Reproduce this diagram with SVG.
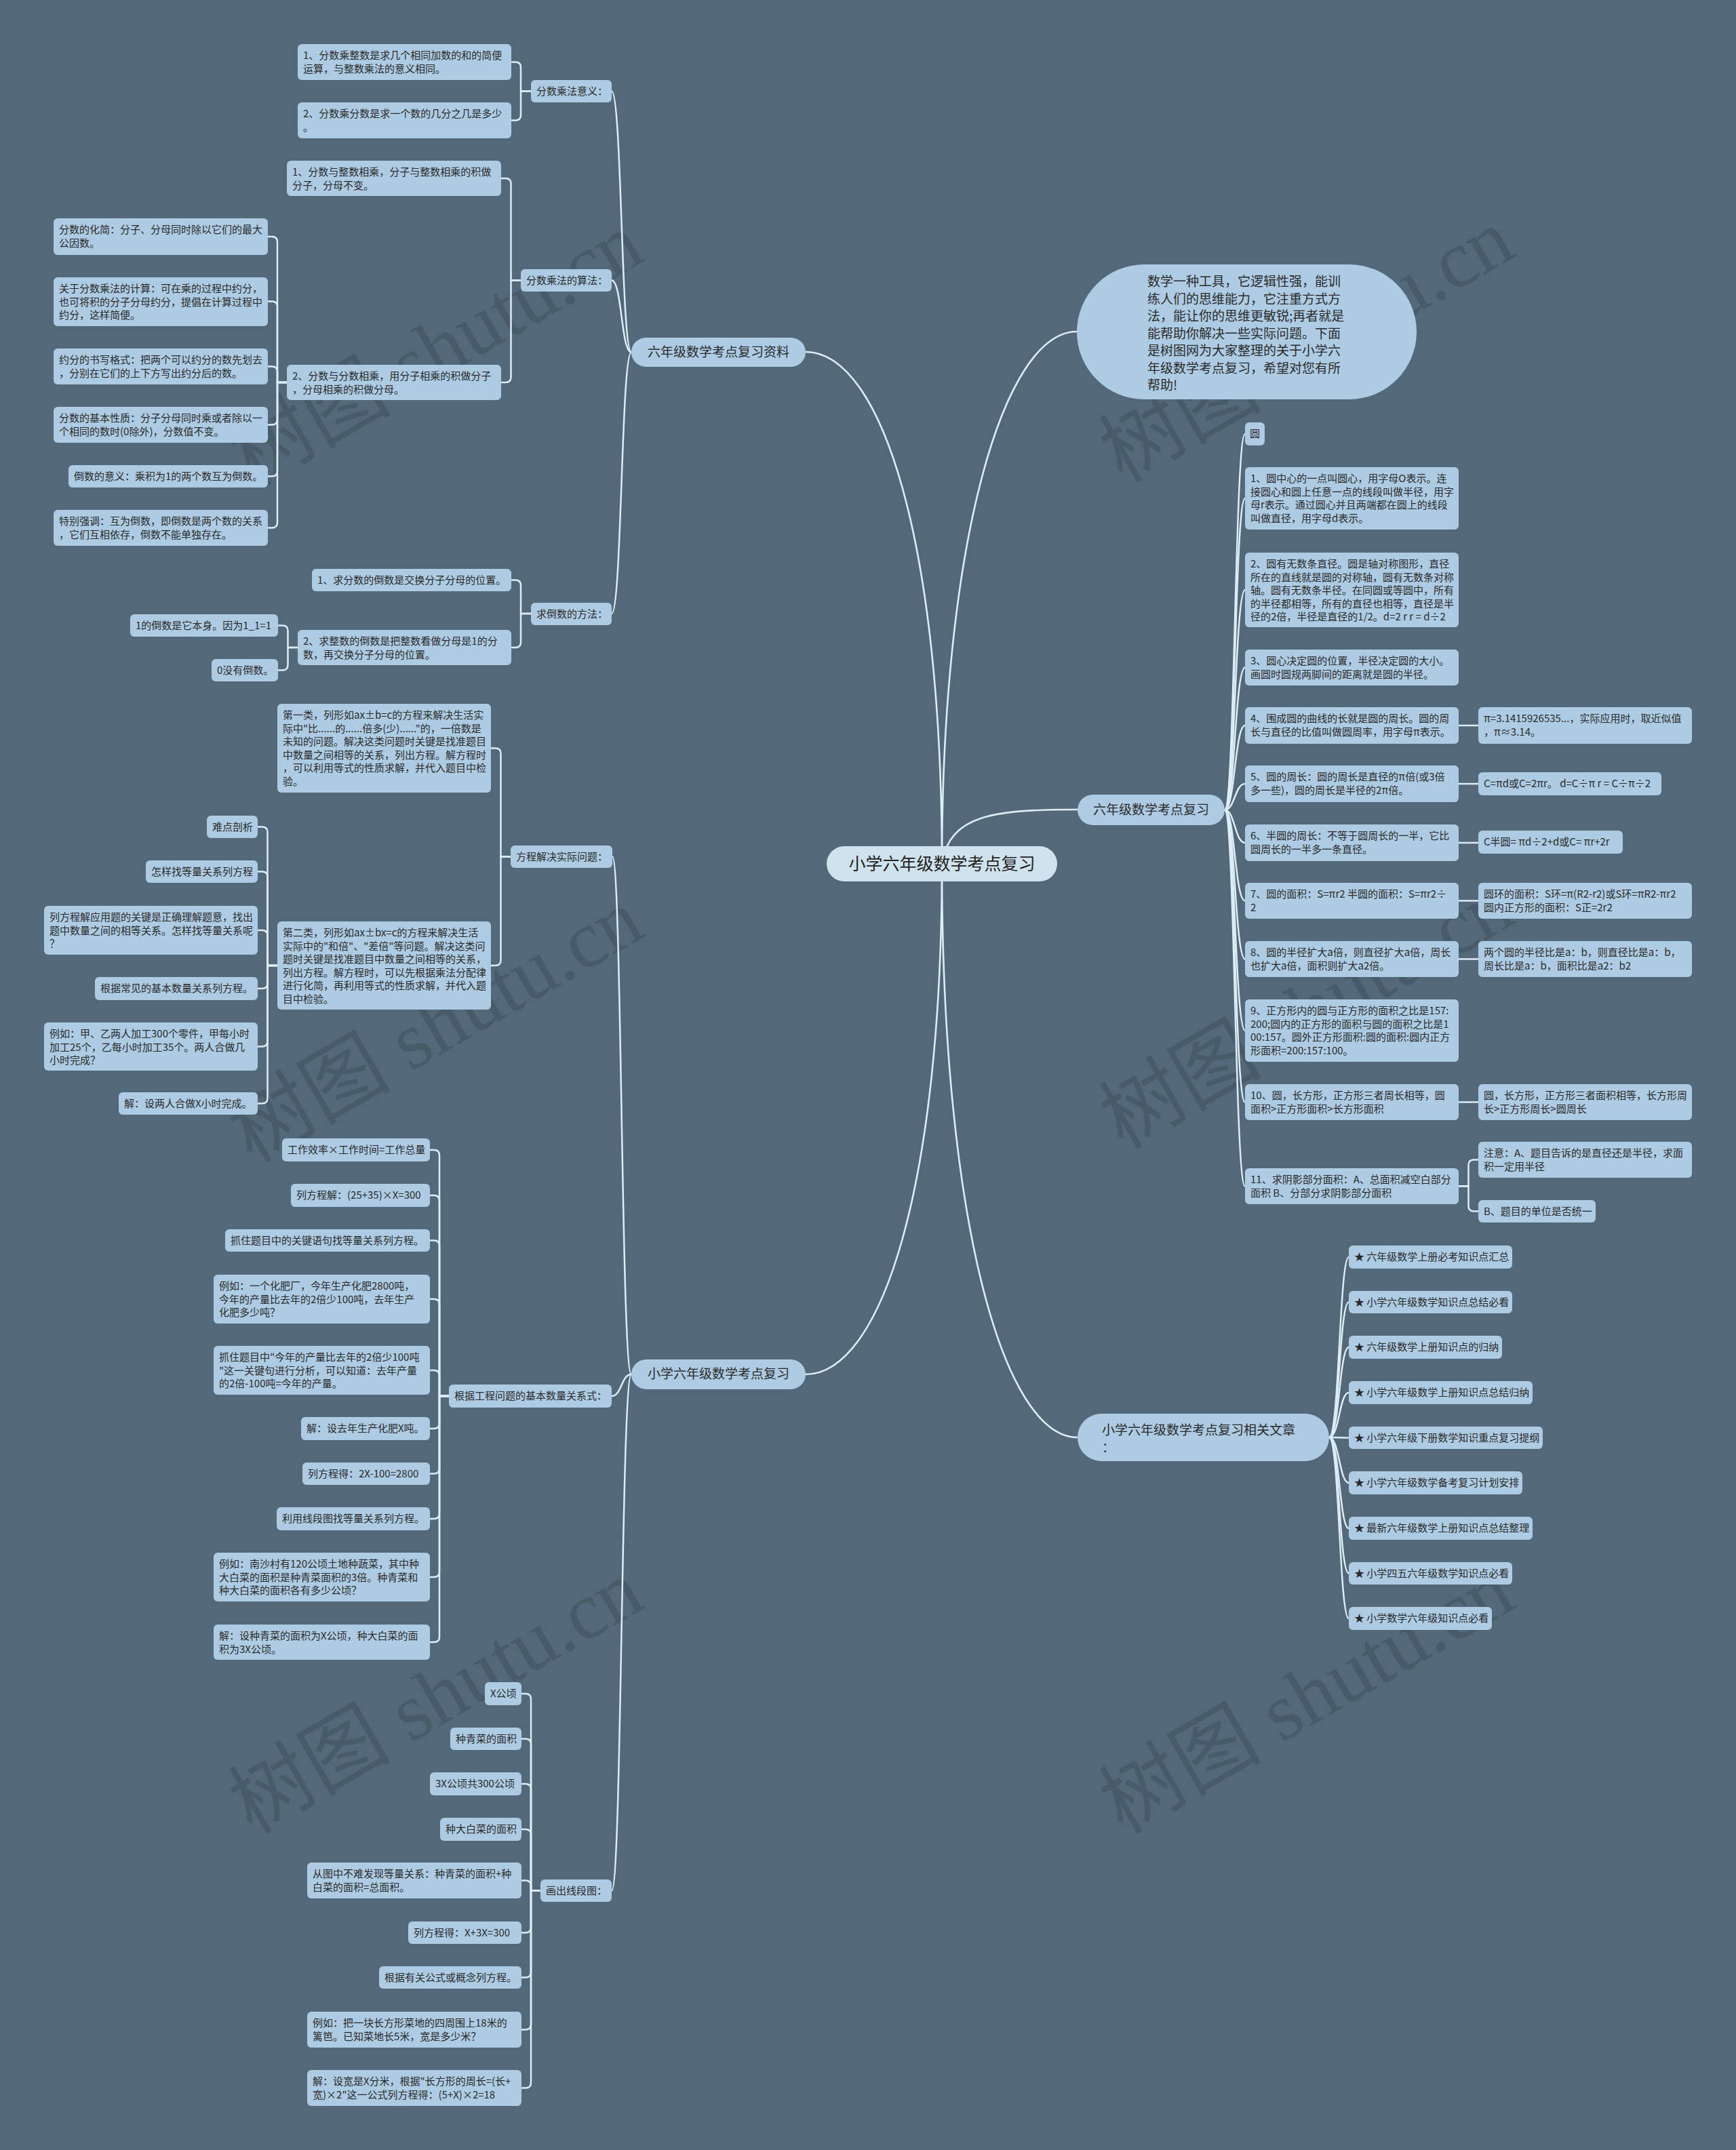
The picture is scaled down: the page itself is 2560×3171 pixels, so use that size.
<svg xmlns="http://www.w3.org/2000/svg" width="2560" height="3171" viewBox="0 0 2560 3171">
<style>
.bg{fill:#536878}
.node rect{fill:#adcbe2}
.t{font-family:"Noto Sans CJK SC","Noto Sans",sans-serif;font-size:15px;fill:#2a2a2a}
.t19{font-family:"Noto Sans CJK SC","Noto Sans",sans-serif;font-size:19px;fill:#2a2a2a}
.t25{font-family:"Noto Sans CJK SC","Noto Sans",sans-serif;font-size:25px;fill:#222}
.conn path{fill:none;stroke:#dcedf6;stroke-width:2.5}
.conn .main{stroke-width:2.6}
.wm{font-family:"Liberation Serif","Noto Sans CJK SC",serif;font-size:120px;fill:#2c3a45;opacity:0.28}
</style>
<rect class="bg" x="0" y="0" width="2560" height="3171"/>

<g id="watermarks">
<text class="wm" x="643" y="556" text-anchor="middle" transform="rotate(-30 643 516)">树图 shutu.cn</text>
<text class="wm" x="1927" y="550" text-anchor="middle" transform="rotate(-30 1927 510)">树图 shutu.cn</text>
<text class="wm" x="643" y="1553" text-anchor="middle" transform="rotate(-30 643 1513)">树图 shutu.cn</text>
<text class="wm" x="1927" y="1533" text-anchor="middle" transform="rotate(-30 1927 1493)">树图 shutu.cn</text>
<text class="wm" x="643" y="2543" text-anchor="middle" transform="rotate(-30 643 2503)">树图 shutu.cn</text>
<text class="wm" x="1927" y="2543" text-anchor="middle" transform="rotate(-30 1927 2503)">树图 shutu.cn</text>
</g>

<g id="connectors" class="conn">
<path class="main" d="M1389,1274 C1389,800 1300,519 1188,519"/>
<path class="main" d="M1389,1274 C1389,1748 1300,2027 1188,2027"/>
<path class="main" d="M1389,1274 C1389,800 1480,489 1588,489"/>
<path class="main" d="M1389,1274 C1400,1200 1470,1194 1589,1194"/>
<path class="main" d="M1389,1274 C1389,1800 1480,2120 1589,2120"/>

<path d="M931,519.5 C916,519.5 917,134.5 902,134.5"/>
<path d="M931,519.5 C916,519.5 917,413.5 902,413.5"/>
<path d="M931,519.5 C916,519.5 917,905 902,905"/>
<path d="M931,2027 C916,2027 917,1263.5 903,1263.5"/>
<path d="M931,2027 C916,2027 917,2059 902,2059"/>
<path d="M931,2027 C916,2027 917,2788.5 902,2788.5"/>

<path d="M1806,1194.5 C1821,1194.5 1821,640 1836,640"/>
<path d="M1806,1194.5 C1821,1194.5 1821,735 1836,735"/>
<path d="M1806,1194.5 C1821,1194.5 1821,870 1836,870"/>
<path d="M1806,1194.5 C1821,1194.5 1821,984.5 1836,984.5"/>
<path d="M1806,1194.5 C1821,1194.5 1821,1070 1836,1070"/>
<path d="M1806,1194.5 C1821,1194.5 1821,1156 1836,1156"/>
<path d="M1806,1194.5 C1821,1194.5 1821,1243 1836,1243"/>
<path d="M1806,1194.5 C1821,1194.5 1821,1328.5 1836,1328.5"/>
<path d="M1806,1194.5 C1821,1194.5 1821,1414.5 1836,1414.5"/>
<path d="M1806,1194.5 C1821,1194.5 1821,1520 1836,1520"/>
<path d="M1806,1194.5 C1821,1194.5 1821,1625.5 1836,1625.5"/>
<path d="M1806,1194.5 C1821,1194.5 1821,1749.5 1836,1749.5"/>

<path d="M1960,2120 C1975,2120 1975,1854 1989,1854"/>
<path d="M1960,2120 C1975,2120 1975,1920.5 1989,1920.5"/>
<path d="M1960,2120 C1975,2120 1975,1987 1989,1987"/>
<path d="M1960,2120 C1975,2120 1975,2054 1989,2054"/>
<path d="M1960,2120 C1975,2120 1975,2120.5 1989,2120.5"/>
<path d="M1960,2120 C1975,2120 1975,2187 1989,2187"/>
<path d="M1960,2120 C1975,2120 1975,2254 1989,2254"/>
<path d="M1960,2120 C1975,2120 1975,2320.5 1989,2320.5"/>
<path d="M1960,2120 C1975,2120 1975,2387 1989,2387"/>

<path d="M783,134.5 H768 V99.5 Q768,91.5 760,91.5 H754"/>
<path d="M783,134.5 H768 V169.5 Q768,177.5 760,177.5 H754"/>
<path d="M768,413.5 H753.5 V271 Q753.5,263 745.5,263 H739"/>
<path d="M768,413.5 H753.5 V556 Q753.5,564 745.5,564 H739"/>

<path d="M423,564 H409 V357 Q409,349 401,349 H395"/>
<path d="M423,564 H409 V452.5 Q409,444.5 401,444.5 H395"/>
<path d="M423,564 H409 V548.5 Q409,540.5 401,540.5 H395"/>
<path d="M423,564 H409 V618.5 Q409,626.5 401,626.5 H395"/>
<path d="M423,564 H409 V694.5 Q409,702.5 401,702.5 H395"/>
<path d="M423,564 H409 V770.5 Q409,778.5 401,778.5 H395"/>

<path d="M783,905 H768 V863.5 Q768,855.5 760,855.5 H754"/>
<path d="M783,905 H768 V947 Q768,955 760,955 H754"/>
<path d="M439,955 H424.5 V930.5 Q424.5,922.5 416.5,922.5 H410"/>
<path d="M439,955 H424.5 V980.5 Q424.5,988.5 416.5,988.5 H410"/>

<path d="M753,1263.5 H738.5 V1111.5 Q738.5,1103.5 730.5,1103.5 H724"/>
<path d="M753,1263.5 H738.5 V1416 Q738.5,1424 730.5,1424 H724"/>

<path d="M409,1424 H394.5 V1227.5 Q394.5,1219.5 386.5,1219.5 H380"/>
<path d="M409,1424 H394.5 V1293.5 Q394.5,1285.5 386.5,1285.5 H380"/>
<path d="M409,1424 H394.5 V1380 Q394.5,1372 386.5,1372 H380"/>
<path d="M409,1424 H394.5 V1450 Q394.5,1458 386.5,1458 H380"/>
<path d="M409,1424 H394.5 V1535.5 Q394.5,1543.5 386.5,1543.5 H380"/>
<path d="M409,1424 H394.5 V1619.5 Q394.5,1627.5 386.5,1627.5 H380"/>

<path d="M662,2059 H648 V1704 Q648,1696 640,1696 H634"/>
<path d="M662,2059 H648 V1771 Q648,1763 640,1763 H634"/>
<path d="M662,2059 H648 V1837.5 Q648,1829.5 640,1829.5 H634"/>
<path d="M662,2059 H648 V1924 Q648,1916 640,1916 H634"/>
<path d="M662,2059 H648 V2029 Q648,2021 640,2021 H634"/>
<path d="M662,2059 H648 V2099 Q648,2107 640,2107 H634"/>
<path d="M662,2059 H648 V2165.5 Q648,2173.5 640,2173.5 H634"/>
<path d="M662,2059 H648 V2232 Q648,2240 640,2240 H634"/>
<path d="M662,2059 H648 V2318 Q648,2326 640,2326 H634"/>
<path d="M662,2059 H648 V2414 Q648,2422 640,2422 H634"/>

<path d="M797,2788.5 H783 V2506 Q783,2498 775,2498 H769"/>
<path d="M797,2788.5 H783 V2572.5 Q783,2564.5 775,2564.5 H769"/>
<path d="M797,2788.5 H783 V2639 Q783,2631 775,2631 H769"/>
<path d="M797,2788.5 H783 V2706 Q783,2698 775,2698 H769"/>
<path d="M797,2788.5 H783 V2781.5 Q783,2773.5 775,2773.5 H769"/>
<path d="M797,2788.5 H783 V2842.5 Q783,2850.5 775,2850.5 H769"/>
<path d="M797,2788.5 H783 V2908.5 Q783,2916.5 775,2916.5 H769"/>
<path d="M797,2788.5 H783 V2985.5 Q783,2993.5 775,2993.5 H769"/>
<path d="M797,2788.5 H783 V3071.5 Q783,3079.5 775,3079.5 H769"/>

<path d="M2151,1070 H2180"/>
<path d="M2151,1156 H2180"/>
<path d="M2151,1243 H2180"/>
<path d="M2151,1328.5 H2180"/>
<path d="M2151,1414.5 H2180"/>
<path d="M2151,1625.5 H2180"/>
<path d="M2151,1749.5 H2165.5 V1718.5 Q2165.5,1710.5 2173.5,1710.5 H2180"/>
<path d="M2151,1749.5 H2165.5 V1778.5 Q2165.5,1786.5 2173.5,1786.5 H2180"/>
</g>

<g id="n0" class="node"><rect x="1219" y="1248" width="340" height="52" rx="26" style="fill:#cfe3ef"/><text class="t25" x="1389" y="1283" text-anchor="middle">小学六年级数学考点复习</text></g>

<g id="n1" class="node"><rect x="931" y="498" width="257" height="43" rx="21.5"/><text class="t19" x="1059.5" y="526" text-anchor="middle">六年级数学考点复习资料</text></g>
<g id="n2" class="node"><rect x="931" y="2005" width="257" height="44" rx="22"/><text class="t19" x="1059.5" y="2033" text-anchor="middle">小学六年级数学考点复习</text></g>
<g id="n3" class="node"><rect x="1588" y="390" width="501" height="199" rx="99.5"/><text class="t19" x="1692"><tspan x="1692" y="422">数学一种工具，它逻辑性强，能训</tspan><tspan x="1692" y="447.5">练人们的思维能力，它注重方式方</tspan><tspan x="1692" y="473">法，能让你的思维更敏锐;再者就是</tspan><tspan x="1692" y="498.5">能帮助你解决一些实际问题。下面</tspan><tspan x="1692" y="524">是树图网为大家整理的关于小学六</tspan><tspan x="1692" y="549.5">年级数学考点复习，希望对您有所</tspan><tspan x="1692" y="575">帮助!</tspan></text></g>
<g id="n4" class="node"><rect x="1589" y="1172" width="217" height="45" rx="22.5"/><text class="t19" x="1697.5" y="1201" text-anchor="middle">六年级数学考点复习</text></g>
<g id="n5" class="node"><rect x="1589" y="2085" width="371" height="70" rx="35"/><text class="t19"><tspan x="1625" y="2116">小学六年级数学考点复习相关文章</tspan><tspan x="1625" y="2142">：</tspan></text></g>

<g id="n1a" class="node"><rect x="783" y="118" width="119" height="33" rx="6"/><text class="t" x="791" y="140">分数乘法意义：</text></g>
<g id="n1b" class="node"><rect x="768" y="397" width="134" height="33" rx="6"/><text class="t" x="776" y="419">分数乘法的算法：</text></g>
<g id="n1c" class="node"><rect x="783" y="889" width="119" height="33" rx="6"/><text class="t" x="791" y="911">求倒数的方法：</text></g>

<g id="n1a1" class="node"><rect x="439" y="65" width="315" height="53" rx="6"/><text class="t"><tspan x="447" y="87">1、分数乘整数是求几个相同加数的和的简便</tspan><tspan x="447" y="106.5">运算，与整数乘法的意义相同。</tspan></text></g>
<g id="n1a2" class="node"><rect x="439" y="151" width="315" height="53" rx="6"/><text class="t"><tspan x="447" y="173">2、分数乘分数是求一个数的几分之几是多少</tspan><tspan x="447" y="192.5">。</tspan></text></g>
<g id="n1b1" class="node"><rect x="423" y="237" width="316" height="52" rx="6"/><text class="t"><tspan x="431" y="259">1、分数与整数相乘，分子与整数相乘的积做</tspan><tspan x="431" y="278.5">分子，分母不变。</tspan></text></g>
<g id="n1b2" class="node"><rect x="423" y="538" width="316" height="52" rx="6"/><text class="t"><tspan x="431" y="560">2、分数与分数相乘，用分子相乘的积做分子</tspan><tspan x="431" y="579.5">，分母相乘的积做分母。</tspan></text></g>

<g id="n1b2a" class="node"><rect x="79" y="322" width="316" height="54" rx="6"/><text class="t"><tspan x="87" y="344">分数的化简：分子、分母同时除以它们的最大</tspan><tspan x="87" y="363.5">公因数。</tspan></text></g>
<g id="n1b2b" class="node"><rect x="79" y="409" width="316" height="72" rx="6"/><text class="t"><tspan x="87" y="431">关于分数乘法的计算：可在乘的过程中约分，</tspan><tspan x="87" y="450.5">也可将积的分子分母约分，提倡在计算过程中</tspan><tspan x="87" y="470">约分，这样简便。</tspan></text></g>
<g id="n1b2c" class="node"><rect x="79" y="514" width="316" height="53" rx="6"/><text class="t"><tspan x="87" y="536">约分的书写格式：把两个可以约分的数先划去</tspan><tspan x="87" y="555.5">，分别在它们的上下方写出约分后的数。</tspan></text></g>
<g id="n1b2d" class="node"><rect x="79" y="600" width="316" height="53" rx="6"/><text class="t"><tspan x="87" y="622">分数的基本性质：分子分母同时乘或者除以一</tspan><tspan x="87" y="641.5">个相同的数时(0除外)，分数值不变。</tspan></text></g>
<g id="n1b2e" class="node"><rect x="101" y="686" width="294" height="33" rx="6"/><text class="t" x="109" y="708">倒数的意义：乘积为1的两个数互为倒数。</text></g>
<g id="n1b2f" class="node"><rect x="79" y="752" width="316" height="53" rx="6"/><text class="t"><tspan x="87" y="774">特别强调：互为倒数，即倒数是两个数的关系</tspan><tspan x="87" y="793.5">，它们互相依存，倒数不能单独存在。</tspan></text></g>

<g id="n1c1" class="node"><rect x="460" y="839" width="294" height="33" rx="6"/><text class="t" x="468" y="861">1、求分数的倒数是交换分子分母的位置。</text></g>
<g id="n1c2" class="node"><rect x="439" y="929" width="315" height="52" rx="6"/><text class="t"><tspan x="447" y="951">2、求整数的倒数是把整数看做分母是1的分</tspan><tspan x="447" y="970.5">数，再交换分子分母的位置。</tspan></text></g>
<g id="n1c2a" class="node"><rect x="192" y="906" width="218" height="33" rx="6"/><text class="t" x="200" y="928">1的倒数是它本身。因为1_1=1</text></g>
<g id="n1c2b" class="node"><rect x="312" y="972" width="98" height="33" rx="6"/><text class="t" x="320" y="994">0没有倒数。</text></g>

<g id="n2a" class="node"><rect x="753" y="1247" width="150" height="33" rx="6"/><text class="t" x="761" y="1269">方程解决实际问题：</text></g>
<g id="n2b" class="node"><rect x="662" y="2042" width="240" height="34" rx="6"/><text class="t" x="670" y="2064">根据工程问题的基本数量关系式：</text></g>
<g id="n2c" class="node"><rect x="797" y="2772" width="105" height="33" rx="6"/><text class="t" x="805" y="2794">画出线段图：</text></g>

<g id="n2a1" class="node"><rect x="409" y="1038" width="315" height="131" rx="6"/><text class="t"><tspan x="417" y="1060">第一类，列形如ax±b=c的方程来解决生活实</tspan><tspan x="417" y="1079.5">际中"比......的......倍多(少)......"的，一倍数是</tspan><tspan x="417" y="1099">未知的问题。解决这类问题时关键是找准题目</tspan><tspan x="417" y="1118.5">中数量之间相等的关系，列出方程。解方程时</tspan><tspan x="417" y="1138">，可以利用等式的性质求解，并代入题目中检</tspan><tspan x="417" y="1157.5">验。</tspan></text></g>
<g id="n2a2" class="node"><rect x="409" y="1359" width="315" height="130" rx="6"/><text class="t"><tspan x="417" y="1381">第二类，列形如ax±bx=c的方程来解决生活</tspan><tspan x="417" y="1400.5">实际中的"和倍"、"差倍"等问题。解决这类问</tspan><tspan x="417" y="1420">题时关键是找准题目中数量之间相等的关系，</tspan><tspan x="417" y="1439.5">列出方程。解方程时，可以先根据乘法分配律</tspan><tspan x="417" y="1459">进行化简，再利用等式的性质求解，并代入题</tspan><tspan x="417" y="1478.5">目中检验。</tspan></text></g>

<g id="n2a2a" class="node"><rect x="305" y="1203" width="75" height="33" rx="6"/><text class="t" x="313" y="1225">难点剖析</text></g>
<g id="n2a2b" class="node"><rect x="215" y="1269" width="165" height="33" rx="6"/><text class="t" x="223" y="1291">怎样找等量关系列方程</text></g>
<g id="n2a2c" class="node"><rect x="65" y="1336" width="315" height="72" rx="6"/><text class="t"><tspan x="73" y="1358">列方程解应用题的关键是正确理解题意，找出</tspan><tspan x="73" y="1377.5">题中数量之间的相等关系。怎样找等量关系呢</tspan><tspan x="73" y="1397">？</tspan></text></g>
<g id="n2a2d" class="node"><rect x="140" y="1441" width="240" height="34" rx="6"/><text class="t" x="148" y="1463">根据常见的基本数量关系列方程。</text></g>
<g id="n2a2e" class="node"><rect x="65" y="1508" width="315" height="71" rx="6"/><text class="t"><tspan x="73" y="1530">例如：甲、乙两人加工300个零件，甲每小时</tspan><tspan x="73" y="1549.5">加工25个，乙每小时加工35个。两人合做几</tspan><tspan x="73" y="1569">小时完成？</tspan></text></g>
<g id="n2a2f" class="node"><rect x="175" y="1611" width="205" height="33" rx="6"/><text class="t" x="183" y="1633">解：设两人合做X小时完成。</text></g>

<g id="n2b1" class="node"><rect x="416" y="1679" width="218" height="34" rx="6"/><text class="t" x="424" y="1701">工作效率×工作时间=工作总量</text></g>
<g id="n2b2" class="node"><rect x="429" y="1746" width="205" height="34" rx="6"/><text class="t" x="437" y="1768">列方程解：(25+35)×X=300</text></g>
<g id="n2b3" class="node"><rect x="332" y="1813" width="302" height="33" rx="6"/><text class="t" x="340" y="1835">抓住题目中的关键语句找等量关系列方程。</text></g>
<g id="n2b4" class="node"><rect x="315" y="1880" width="319" height="72" rx="6"/><text class="t"><tspan x="323" y="1902">例如：一个化肥厂，今年生产化肥2800吨，</tspan><tspan x="323" y="1921.5">今年的产量比去年的2倍少100吨，去年生产</tspan><tspan x="323" y="1941">化肥多少吨？</tspan></text></g>
<g id="n2b5" class="node"><rect x="315" y="1985" width="319" height="72" rx="6"/><text class="t"><tspan x="323" y="2007">抓住题目中"今年的产量比去年的2倍少100吨</tspan><tspan x="323" y="2026.5">"这一关键句进行分析，可以知道：去年产量</tspan><tspan x="323" y="2046">的2倍-100吨=今年的产量。</tspan></text></g>
<g id="n2b6" class="node"><rect x="444" y="2090" width="190" height="34" rx="6"/><text class="t" x="452" y="2112">解：设去年生产化肥X吨。</text></g>
<g id="n2b7" class="node"><rect x="446" y="2157" width="188" height="33" rx="6"/><text class="t" x="454" y="2179">列方程得：2X-100=2800</text></g>
<g id="n2b8" class="node"><rect x="408" y="2223" width="226" height="34" rx="6"/><text class="t" x="416" y="2245">利用线段图找等量关系列方程。</text></g>
<g id="n2b9" class="node"><rect x="315" y="2290" width="319" height="72" rx="6"/><text class="t"><tspan x="323" y="2312">例如：南沙村有120公顷土地种蔬菜，其中种</tspan><tspan x="323" y="2331.5">大白菜的面积是种青菜面积的3倍。种青菜和</tspan><tspan x="323" y="2351">种大白菜的面积各有多少公顷？</tspan></text></g>
<g id="n2b10" class="node"><rect x="315" y="2396" width="319" height="52" rx="6"/><text class="t"><tspan x="323" y="2418">解：设种青菜的面积为X公顷，种大白菜的面</tspan><tspan x="323" y="2437.5">积为3X公顷。</tspan></text></g>

<g id="n2c1" class="node"><rect x="715" y="2481" width="54" height="34" rx="6"/><text class="t" x="723" y="2503">X公顷</text></g>
<g id="n2c2" class="node"><rect x="664" y="2548" width="105" height="33" rx="6"/><text class="t" x="672" y="2570">种青菜的面积</text></g>
<g id="n2c3" class="node"><rect x="634" y="2614" width="135" height="34" rx="6"/><text class="t" x="642" y="2636">3X公顷共300公顷</text></g>
<g id="n2c4" class="node"><rect x="649" y="2681" width="120" height="34" rx="6"/><text class="t" x="657" y="2703">种大白菜的面积</text></g>
<g id="n2c5" class="node"><rect x="453" y="2747" width="316" height="53" rx="6"/><text class="t"><tspan x="461" y="2769">从图中不难发现等量关系：种青菜的面积+种</tspan><tspan x="461" y="2788.5">白菜的面积=总面积。</tspan></text></g>
<g id="n2c6" class="node"><rect x="602" y="2834" width="167" height="33" rx="6"/><text class="t" x="610" y="2856">列方程得：X+3X=300</text></g>
<g id="n2c7" class="node"><rect x="559" y="2900" width="210" height="33" rx="6"/><text class="t" x="567" y="2922">根据有关公式或概念列方程。</text></g>
<g id="n2c8" class="node"><rect x="453" y="2967" width="316" height="53" rx="6"/><text class="t"><tspan x="461" y="2989">例如：把一块长方形菜地的四周围上18米的</tspan><tspan x="461" y="3008.5">篱笆。已知菜地长5米，宽是多少米？</tspan></text></g>
<g id="n2c9" class="node"><rect x="453" y="3053" width="316" height="53" rx="6"/><text class="t"><tspan x="461" y="3075">解：设宽是X分米，根据"长方形的周长=(长+</tspan><tspan x="461" y="3094.5">宽)×2"这一公式列方程得：(5+X)×2=18</tspan></text></g>

<g id="n4a" class="node"><rect x="1836" y="623" width="29" height="34" rx="6"/><text class="t" x="1843" y="645">圆</text></g>
<g id="n4b" class="node"><rect x="1836" y="689" width="315" height="92" rx="6"/><text class="t"><tspan x="1844" y="711">1、圆中心的一点叫圆心，用字母O表示。连</tspan><tspan x="1844" y="730.5">接圆心和圆上任意一点的线段叫做半径，用字</tspan><tspan x="1844" y="750">母r表示。通过圆心并且两端都在圆上的线段</tspan><tspan x="1844" y="769.5">叫做直径，用字母d表示。</tspan></text></g>
<g id="n4c" class="node"><rect x="1836" y="815" width="315" height="110" rx="6"/><text class="t"><tspan x="1844" y="837">2、圆有无数条直径。圆是轴对称图形，直径</tspan><tspan x="1844" y="856.5">所在的直线就是圆的对称轴，圆有无数条对称</tspan><tspan x="1844" y="876">轴。圆有无数条半径。在同圆或等圆中，所有</tspan><tspan x="1844" y="895.5">的半径都相等，所有的直径也相等，直径是半</tspan><tspan x="1844" y="915">径的2倍，半径是直径的1/2。d=2 r r = d÷2</tspan></text></g>
<g id="n4d" class="node"><rect x="1836" y="958" width="315" height="53" rx="6"/><text class="t"><tspan x="1844" y="980">3、圆心决定圆的位置，半径决定圆的大小。</tspan><tspan x="1844" y="999.5">画圆时圆规两脚间的距离就是圆的半径。</tspan></text></g>
<g id="n4e" class="node"><rect x="1836" y="1043" width="315" height="54" rx="6"/><text class="t"><tspan x="1844" y="1065">4、围成圆的曲线的长就是圆的周长。圆的周</tspan><tspan x="1844" y="1084.5">长与直径的比值叫做圆周率，用字母π表示。</tspan></text></g>
<g id="n4f" class="node"><rect x="1836" y="1129" width="315" height="54" rx="6"/><text class="t"><tspan x="1844" y="1151">5、圆的周长：圆的周长是直径的π倍(或3倍</tspan><tspan x="1844" y="1170.5">多一些)，圆的周长是半径的2π倍。</tspan></text></g>
<g id="n4g" class="node"><rect x="1836" y="1216" width="315" height="54" rx="6"/><text class="t"><tspan x="1844" y="1238">6、半圆的周长：不等于圆周长的一半，它比</tspan><tspan x="1844" y="1257.5">圆周长的一半多一条直径。</tspan></text></g>
<g id="n4h" class="node"><rect x="1836" y="1302" width="315" height="53" rx="6"/><text class="t"><tspan x="1844" y="1324">7、圆的面积：S=πr2 半圆的面积：S=πr2÷</tspan><tspan x="1844" y="1343.5">2</tspan></text></g>
<g id="n4i" class="node"><rect x="1836" y="1388" width="315" height="53" rx="6"/><text class="t"><tspan x="1844" y="1410">8、圆的半径扩大a倍，则直径扩大a倍，周长</tspan><tspan x="1844" y="1429.5">也扩大a倍，面积则扩大a2倍。</tspan></text></g>
<g id="n4j" class="node"><rect x="1836" y="1474" width="315" height="92" rx="6"/><text class="t"><tspan x="1844" y="1496">9、正方形内的圆与正方形的面积之比是157:</tspan><tspan x="1844" y="1515.5">200;圆内的正方形的面积与圆的面积之比是1</tspan><tspan x="1844" y="1535">00:157。圆外正方形面积:圆的面积:圆内正方</tspan><tspan x="1844" y="1554.5">形面积=200:157:100。</tspan></text></g>
<g id="n4k" class="node"><rect x="1836" y="1599" width="315" height="53" rx="6"/><text class="t"><tspan x="1844" y="1621">10、圆，长方形，正方形三者周长相等，圆</tspan><tspan x="1844" y="1640.5">面积&gt;正方形面积&gt;长方形面积</tspan></text></g>
<g id="n4l" class="node"><rect x="1836" y="1723" width="315" height="53" rx="6"/><text class="t"><tspan x="1844" y="1745">11、求阴影部分面积：A、总面积减空白部分</tspan><tspan x="1844" y="1764.5">面积 B、分部分求阴影部分面积</tspan></text></g>

<g id="n4e1" class="node"><rect x="2180" y="1043" width="315" height="54" rx="6"/><text class="t"><tspan x="2188" y="1065">π=3.1415926535...，实际应用时，取近似值</tspan><tspan x="2188" y="1084.5">，π≈3.14。</tspan></text></g>
<g id="n4f1" class="node"><rect x="2180" y="1139" width="270" height="34" rx="6"/><text class="t" x="2188" y="1161">C=πd或C=2πr。 d=C÷π r = C÷π÷2</text></g>
<g id="n4g1" class="node"><rect x="2180" y="1225" width="213" height="34" rx="6"/><text class="t" x="2188" y="1247">C半圆= πd÷2+d或C= πr+2r</text></g>
<g id="n4h1" class="node"><rect x="2180" y="1302" width="315" height="53" rx="6"/><text class="t"><tspan x="2188" y="1324">圆环的面积：S环=π(R2-r2)或S环=πR2-πr2</tspan><tspan x="2188" y="1343.5">圆内正方形的面积：S正=2r2</tspan></text></g>
<g id="n4i1" class="node"><rect x="2180" y="1388" width="315" height="53" rx="6"/><text class="t"><tspan x="2188" y="1410">两个圆的半径比是a：b，则直径比是a：b，</tspan><tspan x="2188" y="1429.5">周长比是a：b，面积比是a2：b2</tspan></text></g>
<g id="n4k1" class="node"><rect x="2180" y="1599" width="315" height="53" rx="6"/><text class="t"><tspan x="2188" y="1621">圆，长方形，正方形三者面积相等，长方形周</tspan><tspan x="2188" y="1640.5">长&gt;正方形周长&gt;圆周长</tspan></text></g>
<g id="n4l1" class="node"><rect x="2180" y="1684" width="315" height="53" rx="6"/><text class="t"><tspan x="2188" y="1706">注意：A、题目告诉的是直径还是半径，求面</tspan><tspan x="2188" y="1725.5">积一定用半径</tspan></text></g>
<g id="n4l2" class="node"><rect x="2180" y="1770" width="173" height="33" rx="6"/><text class="t" x="2188" y="1792">B、题目的单位是否统一</text></g>

<g id="n5a" class="node"><rect x="1989" y="1837" width="241" height="34" rx="6"/><text class="t" x="1997" y="1859">★ 六年级数学上册必考知识点汇总</text></g>
<g id="n5b" class="node"><rect x="1989" y="1904" width="241" height="33" rx="6"/><text class="t" x="1997" y="1926">★ 小学六年级数学知识点总结必看</text></g>
<g id="n5c" class="node"><rect x="1989" y="1970" width="226" height="34" rx="6"/><text class="t" x="1997" y="1992">★ 六年级数学上册知识点的归纳</text></g>
<g id="n5d" class="node"><rect x="1989" y="2037" width="271" height="34" rx="6"/><text class="t" x="1997" y="2059">★ 小学六年级数学上册知识点总结归纳</text></g>
<g id="n5e" class="node"><rect x="1989" y="2104" width="286" height="33" rx="6"/><text class="t" x="1997" y="2126">★ 小学六年级下册数学知识重点复习提纲</text></g>
<g id="n5f" class="node"><rect x="1989" y="2170" width="256" height="34" rx="6"/><text class="t" x="1997" y="2192">★ 小学六年级数学备考复习计划安排</text></g>
<g id="n5g" class="node"><rect x="1989" y="2237" width="271" height="34" rx="6"/><text class="t" x="1997" y="2259">★ 最新六年级数学上册知识点总结整理</text></g>
<g id="n5h" class="node"><rect x="1989" y="2304" width="241" height="33" rx="6"/><text class="t" x="1997" y="2326">★ 小学四五六年级数学知识点必看</text></g>
<g id="n5i" class="node"><rect x="1989" y="2370" width="211" height="34" rx="6"/><text class="t" x="1997" y="2392">★ 小学数学六年级知识点必看</text></g>
</svg>
